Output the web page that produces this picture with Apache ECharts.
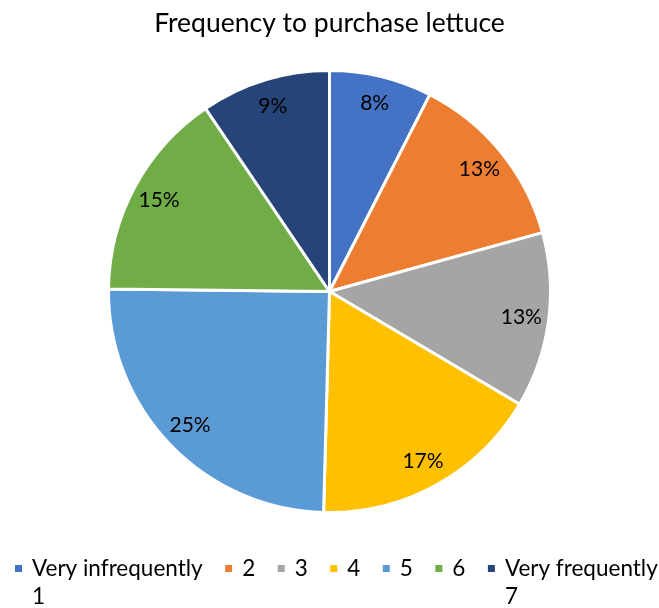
<!DOCTYPE html>
<html>
<head>
<meta charset="utf-8">
<script src="https://cdn.jsdelivr.net/npm/echarts@6/dist/echarts.min.js"></script>
<style>html,body{margin:0;padding:0;background:#fff}#c{width:659px;height:608px}</style>
</head>
<body>
<div id="c"></div>
<script>
const titleText = 'Frequency to purchase lettuce';
const categories = ['Very infrequently\n1', '2', '3', '4', '5', '6', 'Very frequently\n7'];
const shares = [7.5, 13.2, 12.8, 16.9, 24.75, 15.33, 9.47];
const colors = ['#4472C4', '#ED7D31', '#A5A5A5', '#FFC000', '#5B9BD5', '#70AD47', '#264478'];

const FONT = 'Lato';
const total = shares.reduce((a, b) => a + b, 0);
const data = categories.map((n, i) => ({ name: n, value: shares[i], itemStyle: { color: colors[i] } }));
const labelData = categories.map((n, i) => ({ name: n, value: shares[i] }));

const chart = echarts.init(document.getElementById('c'));
chart.setOption({
  animation: false,
  title: {
    text: titleText, left: 'center', top: 5,
    textStyle: { fontFamily: FONT, fontWeight: 'normal', fontSize: 26.5, color: '#000' }
  },
  color: colors,
  legend: {
    left: 13, width: 700, top: 529, padding: 0, itemGap: 20.5,
    itemWidth: 13, itemHeight: 9,
    icon: 'path://M0,0h9v9h-9z M13,4.5L13,4.5',
    data: categories,
    formatter: function (name) {
      const lines = name.split('\n');
      if (lines.length > 1) return '{t| }\n' + lines.map(l => '{t|' + l + '}').join('\n');
      return '{t|' + name + '}';
    },
    textStyle: {
      fontFamily: FONT, fontSize: 22.5, color: '#000',
      rich: { t: { fontFamily: FONT, fontSize: 22.5, lineHeight: 28, color: '#000' } }
    }
  },
  series: [
    {
      type: 'pie', center: [329.5, 291.5], radius: [0, 221],
      startAngle: 90, clockwise: true,
      itemStyle: { borderColor: '#fff', borderWidth: 3 },
      label: { show: false }, labelLine: { show: false },
      emphasis: { disabled: true },
      data: data
    },
    {
      type: 'pie', center: [329.5, 291.5], radius: [160, 221],
      startAngle: 90, clockwise: true, silent: true,
      itemStyle: { color: 'rgba(0,0,0,0)', borderWidth: 0 },
      label: {
        show: true, position: 'inside',
        fontFamily: FONT, fontSize: 21, color: '#000',
        formatter: p => Math.round(p.value / total * 100) + '%'
      },
      labelLine: { show: false },
      emphasis: { disabled: true },
      data: labelData
    }
  ]
});
</script>
</body>
</html>
